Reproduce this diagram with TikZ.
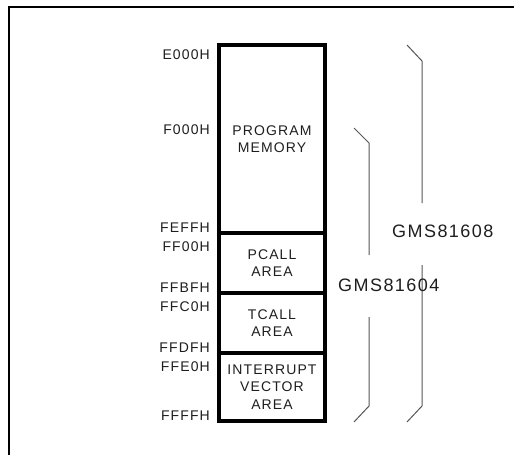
\documentclass[tikz,border=0pt]{standalone}
\usepackage{fontspec}
\setmainfont{Liberation Sans}
\newfontfamily\memfont[LetterSpace=8]{Liberation Sans}
\newfontfamily\chipfont[LetterSpace=8]{Liberation Sans}

\begin{document}
\begin{tikzpicture}[x=1pt,y=-1pt]

% Colori
\definecolor{lineGray}{HTML}{555555}
\definecolor{txtGray}{HTML}{1E1E1E}

\tikzset{
  memblock/.style={draw=black, line width=3.5pt, minimum width=106pt, inner sep=0pt, outer sep=0pt,
    align=center, font=\memfont\fontsize{14}{17.5}\selectfont, text=txtGray},
  addr/.style={anchor=east, inner sep=0pt, font=\memfont\fontsize{14}{15}\selectfont, text=txtGray},
  bracket/.style={draw=lineGray, line width=1pt},
  chip/.style={anchor=west, inner sep=0pt, font=\chipfont\fontsize{18}{19}\selectfont, text=txtGray}
}

\useasboundingbox (0,0) rectangle (514,455);
\clip (0,0) rectangle (514,455);

% Cornice
\draw[line width=2.2pt] (9,470) -- (9,7) -- (530,7);

% Blocchi di memoria
\node[memblock, minimum height=188pt] (progmem) at (272,139) {PROGRAM\\MEMORY};
\node[memblock, minimum height=60pt, anchor=north] (pcall) at (progmem.south) {PCALL\\AREA};
\node[memblock, minimum height=60pt, anchor=north] (tcall) at (pcall.south) {TCALL\\AREA};
\node[memblock, minimum height=68pt, anchor=north] (intvec) at (tcall.south) {INTERRUPT\\VECTOR\\AREA};

% Indirizzi
\node[addr] (aE000) at (210,55) {E000H};
\node[addr] (aF000) at (210,130) {F000H};
\node[addr] (aFEFF) at (210,228) {FEFFH};
\node[addr] (aFF00) at (210,247) {FF00H};
\node[addr] (aFFBF) at (210,288) {FFBFH};
\node[addr] (aFFC0) at (210,307) {FFC0H};
\node[addr] (aFFDF) at (210,348) {FFDFH};
\node[addr] (aFFE0) at (210,367) {FFE0H};
\node[addr] (aFFFF) at (210,416) {FFFFH};

% Parentesi GMS81608
\coordinate (b8tip) at (407,45);
\coordinate (b8top) at (422,61);
\coordinate (b8gapA) at (422,203);
\coordinate (b8gapB) at (422,265);
\coordinate (b8bot) at (422,406);
\coordinate (b8end) at (407,422);
\draw[bracket] (b8tip) -- (b8top) -- (b8gapA);
\draw[bracket] (b8gapB) -- (b8bot) -- (b8end);
\node[chip] (g8) at (392,231) {GMS81608};

% Parentesi GMS81604
\coordinate (b4tip) at (354,128);
\coordinate (b4top) at (369,143);
\coordinate (b4gapA) at (369,255);
\coordinate (b4gapB) at (369,317);
\coordinate (b4bot) at (369,406);
\coordinate (b4end) at (354,422);
\draw[bracket] (b4tip) -- (b4top) -- (b4gapA);
\draw[bracket] (b4gapB) -- (b4bot) -- (b4end);
\node[chip] (g4) at (338,285) {GMS81604};

\end{tikzpicture}
\end{document}
